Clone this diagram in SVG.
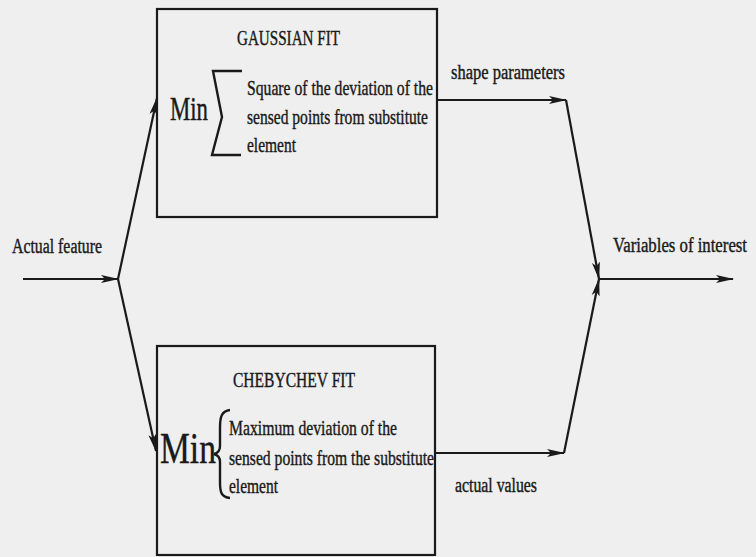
<svg xmlns="http://www.w3.org/2000/svg" width="756" height="557" viewBox="0 0 756 557">
  <style>
    text { font-family: "Liberation Serif", "Times New Roman", serif; fill: #1a1a1a; stroke: #1a1a1a; stroke-width: 0.3; }
    .lbl { font-size: 15.75px; }
    .tag { font-size: 15px; }
    .box { fill: none; stroke: #1a1a1a; stroke-width: 2.2; }
    .wire { fill: none; stroke: #1a1a1a; stroke-width: 2.2; }
    .brk { fill: none; stroke: #1a1a1a; stroke-width: 2.4; }
  </style>
  <defs>
    <marker id="arr" markerUnits="userSpaceOnUse" markerWidth="18" markerHeight="10" viewBox="0 0 18 10" refX="17" refY="5" orient="auto">
      <path d="M0,1 L18,5 L0,9 L4,5 Z" fill="#1a1a1a"/>
    </marker>
  </defs>
  <rect width="756" height="557" fill="#efefef"/>

  <g id="connectors">
    <line class="wire" x1="23" y1="279" x2="118" y2="279" marker-end="url(#arr)"/>
    <line class="wire" x1="118" y1="279" x2="157" y2="98" marker-end="url(#arr)"/>
    <line class="wire" x1="118" y1="279" x2="156" y2="451" marker-end="url(#arr)"/>
    <line class="wire" x1="437" y1="100" x2="566" y2="100" marker-end="url(#arr)"/>
    <line class="wire" x1="566" y1="100" x2="599" y2="279" marker-end="url(#arr)"/>
    <line class="wire" x1="435" y1="453" x2="564" y2="453" marker-end="url(#arr)"/>
    <line class="wire" x1="564" y1="453" x2="599" y2="279" marker-end="url(#arr)"/>
    <line class="wire" x1="599" y1="279" x2="733" y2="279" marker-end="url(#arr)"/>
  </g>

  <!-- text is set in a narrow face: small size, stretched vertically -->
  <g id="gaussian">
    <rect class="box" x="157" y="9" width="280" height="208"/>
    <text class="lbl" transform="translate(237,45) scale(1,1.333)" textLength="103" lengthAdjust="spacingAndGlyphs">GAUSSIAN FIT</text>
    <text transform="translate(170,120) scale(1,1.45)" font-size="22.8" textLength="38" lengthAdjust="spacingAndGlyphs">Min</text>
    <path class="brk" d="M242,71 H213 L222,117 L212,155 H241"/>
    <text class="lbl" transform="translate(247,95) scale(1,1.333)" textLength="186" lengthAdjust="spacingAndGlyphs">Square of the deviation of the</text>
    <text class="lbl" transform="translate(247,124) scale(1,1.333)" textLength="181" lengthAdjust="spacingAndGlyphs">sensed points from substitute</text>
    <text class="lbl" transform="translate(247,152) scale(1,1.333)" textLength="49" lengthAdjust="spacingAndGlyphs">element</text>
  </g>

  <g id="chebychev">
    <rect class="box" x="157" y="346" width="278" height="209"/>
    <text class="lbl" transform="translate(233,387) scale(1,1.333)" textLength="122" lengthAdjust="spacingAndGlyphs">CHEBYCHEV FIT</text>
    <text transform="translate(160,463) scale(1,1.31)" font-size="33.6" textLength="56" lengthAdjust="spacingAndGlyphs">Min</text>
    <path class="brk" d="M230,410 C221,411 220,418 220,428 L220,446 C220,451 218,453 214,454 C218,455 220,457 220,462 L220,482 C220,492 221,497 230,498"/>
    <text class="lbl" transform="translate(229,435) scale(1,1.333)" textLength="168" lengthAdjust="spacingAndGlyphs">Maximum deviation of the</text>
    <text class="lbl" transform="translate(229,465) scale(1,1.333)" textLength="205" lengthAdjust="spacingAndGlyphs">sensed points from the substitute</text>
    <text class="lbl" transform="translate(229,493) scale(1,1.333)" textLength="49" lengthAdjust="spacingAndGlyphs">element</text>
  </g>

  <g id="labels">
    <text class="tag" transform="translate(12,253) scale(1,1.333)" textLength="90" lengthAdjust="spacingAndGlyphs">Actual feature</text>
    <text class="tag" transform="translate(451,79) scale(1,1.333)" textLength="114" lengthAdjust="spacingAndGlyphs">shape parameters</text>
    <text class="tag" transform="translate(613,252) scale(1,1.333)" textLength="134" lengthAdjust="spacingAndGlyphs">Variables of interest</text>
    <text class="tag" transform="translate(455,492) scale(1,1.333)" textLength="82" lengthAdjust="spacingAndGlyphs">actual values</text>
  </g>
</svg>
